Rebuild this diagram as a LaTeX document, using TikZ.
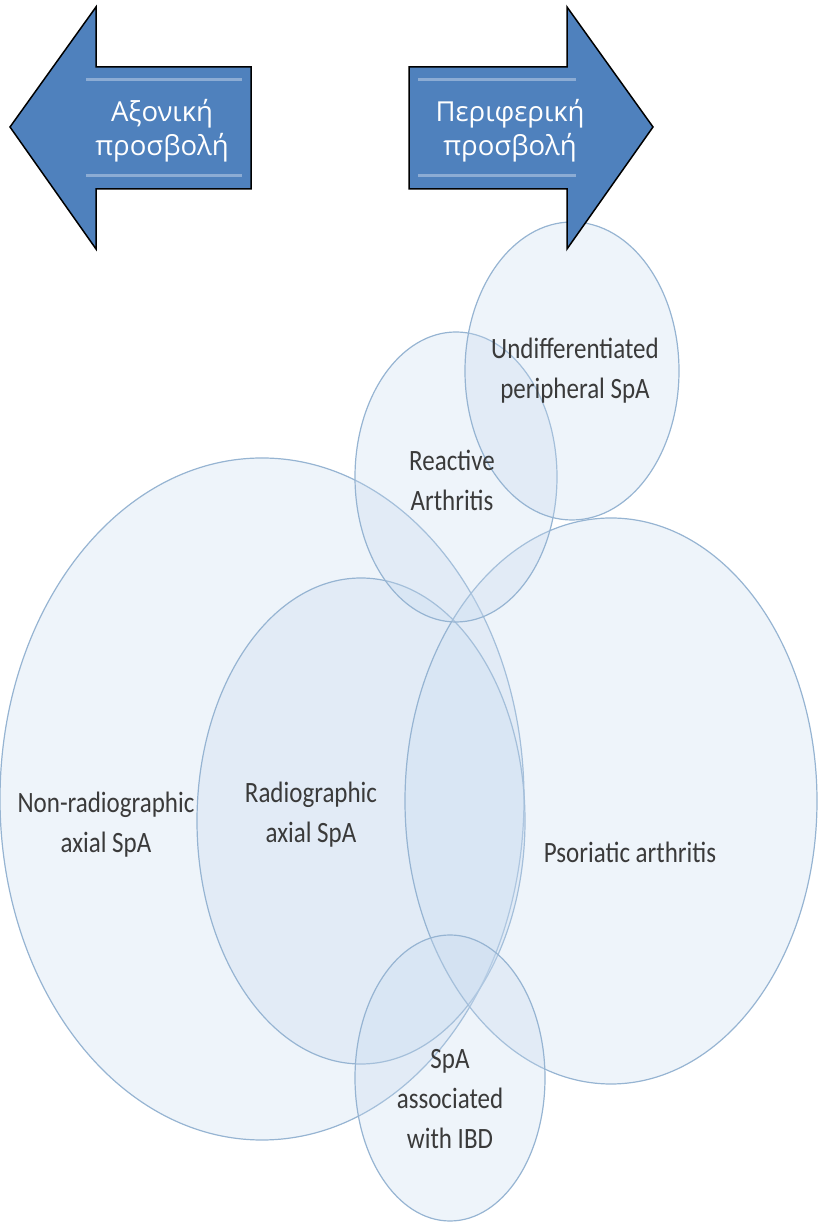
\documentclass[tikz,border=0pt]{standalone}
\usepackage{fontspec}
\setmainfont{Carlito}
\newfontfamily\arrowfont{Open Sans}
\definecolor{zonefill}{RGB}{198,217,238}
\definecolor{zoneline}{RGB}{150,180,210}
\definecolor{arrowblue}{RGB}{79,129,189}
\definecolor{labelgray}{RGB}{58,58,58}
\tikzset{
	zone/.style={draw=zoneline, line width=1.2pt, fill=zonefill, fill opacity=0.3},
	bigarrow/.style={draw=black, line width=1.5pt, fill=arrowblue},
	gloss/.style={draw=white, opacity=0.35, line width=3pt},
	zonelabel/.style={text=labelgray, align=center, yscale=1.18, transform shape, font=\fontsize{25}{34}\selectfont},
	arrowlabel/.style={text=white, align=center, font=\arrowfont\fontsize{27.5}{34}\selectfont}
}
\begin{document}
\begin{tikzpicture}[x=1pt, y=1pt, every node/.style={inner sep=0pt, outer sep=0pt}]
	\useasboundingbox (0,0) rectangle (818,1224);

	% the six groups
	\foreach \cx/\cy/\rx/\ry in {262/425/262/341, 361/403/164/243, 611/423/206/283, 456/747/101/145, 572/853/107/149, 450/146/95/143}{
		\draw[zone] (\cx,\cy) ellipse [x radius=\rx, y radius=\ry];
	}

	\node[zonelabel] (nonrad) at (106,399) {Non-radiographic\\axial SpA};
	\node[zonelabel] (rad) at (311,409) {Radiographic\\axial SpA};
	\node[zonelabel] (psor) at (630,372) {Psoriatic arthritis};
	\node[zonelabel] (react) at (452,744) {Reactive\\Arthritis};
	\node[zonelabel] (undiff) at (575,853) {Undifferentiated\\peripheral SpA};
	\node[zonelabel] (ibd) at (450,125) {SpA\\associated\\with IBD};

	% the two arrows
	\draw[bigarrow] (10,1097) -- (96,1217) -- (96,1157) -- (251,1157) -- (251,1035) -- (96,1035) -- (96,975) -- cycle;
	\draw[bigarrow] (653,1097) -- (567,1217) -- (567,1157) -- (409,1157) -- (409,1035) -- (567,1035) -- (567,975) -- cycle;
	\foreach \y in {1144,1048}{
		\draw[gloss] (86,\y) -- (242,\y);
		\draw[gloss] (418,\y) -- (576,\y);
	}
	\node[arrowlabel] (axial) at (162,1093) {Αξονική\\προσβολή};
	\node[arrowlabel] (periph) at (510,1093) {Περιφερική\\προσβολή};
\end{tikzpicture}
\end{document}
